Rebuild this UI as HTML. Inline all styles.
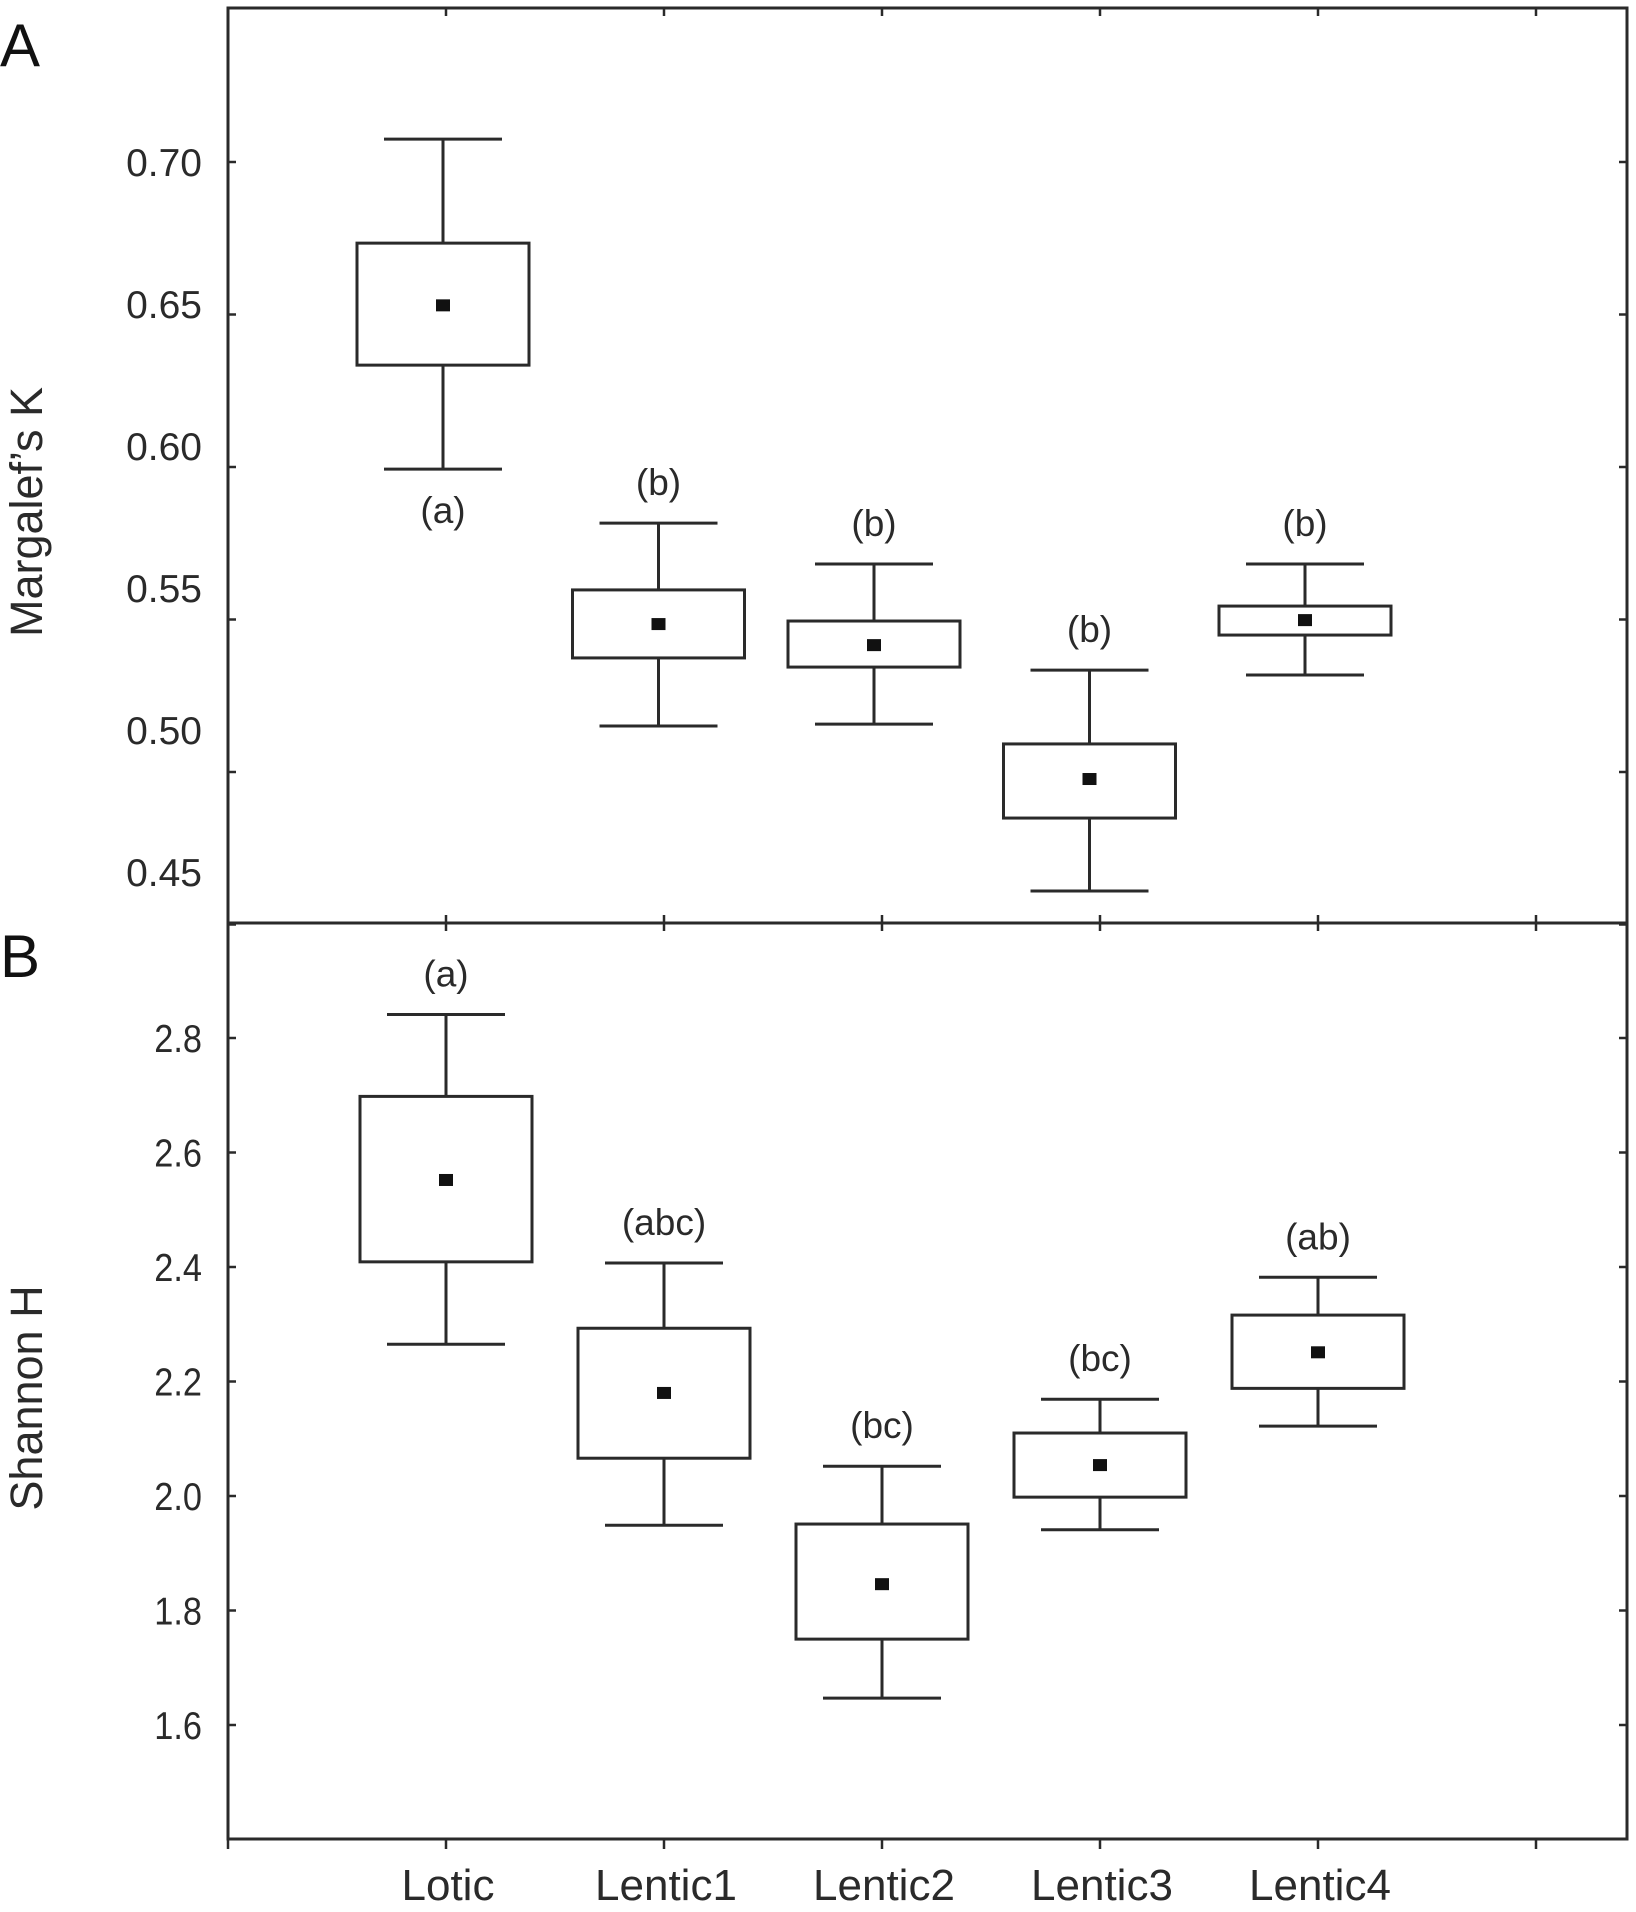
<!DOCTYPE html>
<html><head><meta charset="utf-8"><style>
html,body{margin:0;padding:0;background:#fff;}
svg{display:block;font-family:"Liberation Sans",sans-serif;}
</style></head><body>
<svg id="chart" width="1636" height="1912" viewBox="0 0 1636 1912" xmlns="http://www.w3.org/2000/svg"></svg>
<script>
const categories = ["Lotic","Lentic1","Lentic2","Lentic3","Lentic4"];
// Panel A: Margalef's K
const aWhiskerHigh = [0.7075,0.5816,0.5682,0.5334,0.5682];
const aBoxHigh     = [0.6734,0.5597,0.5495,0.5092,0.5544];
const aMean        = [0.653,0.5485,0.5416,0.4977,0.5498];
const aBoxLow      = [0.6334,0.5374,0.5344,0.4849,0.5449];
const aWhiskerLow  = [0.5993,0.5151,0.5157,0.461,0.5318];
const aLetters     = ["(a)","(b)","(b)","(b)","(b)"];
const aTicks       = [0.70,0.65,0.60,0.55,0.50,0.45];
const aTickLabels  = ["0.70","0.65","0.60","0.55","0.50","0.45"];
// Panel B: Shannon H
const bWhiskerHigh = [2.841,2.407,2.052,2.169,2.382];
const bBoxHigh     = [2.698,2.293,1.951,2.110,2.316];
const bMean        = [2.552,2.180,1.846,2.054,2.251];
const bBoxLow      = [2.409,2.066,1.750,1.998,2.188];
const bWhiskerLow  = [2.265,1.949,1.647,1.941,2.122];
const bLetters     = ["(a)","(abc)","(bc)","(bc)","(ab)"];
const bTicks       = [2.8,2.6,2.4,2.2,2.0,1.8,1.6];
const bTickLabels  = ["2.8","2.6","2.4","2.2","2.0","1.8","1.6"];

const svg = document.getElementById('chart');
const NS = "http://www.w3.org/2000/svg";
const C = "#2a2a2a";
function el(tag, attrs, parent){const e=document.createElementNS(NS,tag);for(const k in attrs)e.setAttribute(k,attrs[k]);(parent||svg).appendChild(e);return e;}
const L=228,R=1627;
function xPosA(i){return 443+215.5*i;}
function tickX(i){return L+218*(i+1);}

function panel(p){
  const g=el('g',{});
  
  
  const frame=el('rect',{x:L,y:p.top,width:R-L,height:p.bottom-p.top,fill:'none',stroke:C,'stroke-width':3},g);
  
  
  p.ticks.forEach((v,i)=>{
    const y=p.y(v);
    const t=el('line',{x1:L,x2:L+8,y1:y,y2:y,stroke:C,'stroke-width':2.5},g);
    
    
    el('line',{x1:R-8,x2:R,y1:y,y2:y,stroke:C,'stroke-width':2.5},g);
    const ax=L-26;
    const tx=el('text',{x:ax,y:p.labelY(v)+14,'text-anchor':'end','font-size':p.tickFont,fill:C,transform:p.cond?`translate(${ax*0.12},0) scale(0.88,1)`:''},g);
    tx.textContent=p.tickLabels[i];
    
    
  });
  for(let i=-1;i<=5;i++){
    const x=tickX(i);
    el('line',{x1:x,x2:x,y1:p.top,y2:p.top+8,stroke:C,'stroke-width':2.5},g);
    if(p.bottomOut) el('line',{x1:x,x2:x,y1:p.bottom,y2:p.bottom+10,stroke:C,'stroke-width':2.5},g);
    else el('line',{x1:x,x2:x,y1:p.bottom-8,y2:p.bottom,stroke:C,'stroke-width':2.5},g);
  }
  categories.forEach((c,i)=>{
    const x=p.x(i), bw=86, cw=59;
    const bg=el('g',{},g);
    
    
    const yWH=p.y(p.wh[i]), yBH=p.y(p.bh[i]), yM=p.y(p.mean[i]), yBL=p.y(p.bl[i]), yWL=p.y(p.wl[i]);
    el('line',{x1:x,x2:x,y1:yWH,y2:yBH,stroke:C,'stroke-width':3},bg);
    el('line',{x1:x,x2:x,y1:yBL,y2:yWL,stroke:C,'stroke-width':3},bg);
    el('line',{x1:x-cw,x2:x+cw,y1:yWH,y2:yWH,stroke:C,'stroke-width':3},bg);
    el('line',{x1:x-cw,x2:x+cw,y1:yWL,y2:yWL,stroke:C,'stroke-width':3},bg);
    el('rect',{x:x-bw,y:yBH,width:2*bw,height:yBL-yBH,fill:'none',stroke:C,'stroke-width':3},bg);
    const m=el('rect',{x:x-7,y:yM-6,width:14,height:12,fill:'#111'},bg);
    
    
    const below = p.letterBelow && i===0;
    const ly = below ? yWL+54 : yWH-28;
    const lt=el('text',{x:x,y:ly,'text-anchor':'middle','font-size':37,fill:C},bg);
    lt.textContent=p.letters[i];
    
    
  });
  const yt=el('text',{x:0,y:0,'text-anchor':'middle','font-size':45,fill:C,transform:`translate(${p.titleX},${p.titleY}) rotate(-90)`},g);
  yt.textContent=p.title;
  
  
  const pl=el('text',{x:0,y:p.letterY,'font-size':60,fill:'#111'},g);
  pl.textContent=p.panelLetter;
  
  
}

panel({name:'panel-a',top:8,bottom:923,x:xPosA,y:v=>162+(0.70-v)*3050,labelY:v=>162+(0.70-v)/0.05*142,
  ticks:aTicks,tickLabels:aTickLabels,tickFont:39,wh:aWhiskerHigh,bh:aBoxHigh,mean:aMean,bl:aBoxLow,wl:aWhiskerLow,
  letters:aLetters,letterBelow:true,title:"Margalef\u2019s K",titleX:42,titleY:512,panelLetter:"A",letterY:66,bottomOut:false});
panel({name:'panel-b',top:923,bottom:1839,x:tickX,y:v=>1038+(2.8-v)*572.5,labelY:v=>1038+(2.8-v)*572.5,
  ticks:bTicks,tickLabels:bTickLabels,tickFont:39,cond:true,wh:bWhiskerHigh,bh:bBoxHigh,mean:bMean,bl:bBoxLow,wl:bWhiskerLow,
  letters:bLetters,letterBelow:false,title:"Shannon H",titleX:42,titleY:1398,panelLetter:"B",letterY:977,bottomOut:true});

categories.forEach((c,i)=>{
  const t=el('text',{x:tickX(i)+2,y:1900,'text-anchor':'middle','font-size':44,fill:C});
  t.textContent=c;
  
  
});
</script>
</body></html>
